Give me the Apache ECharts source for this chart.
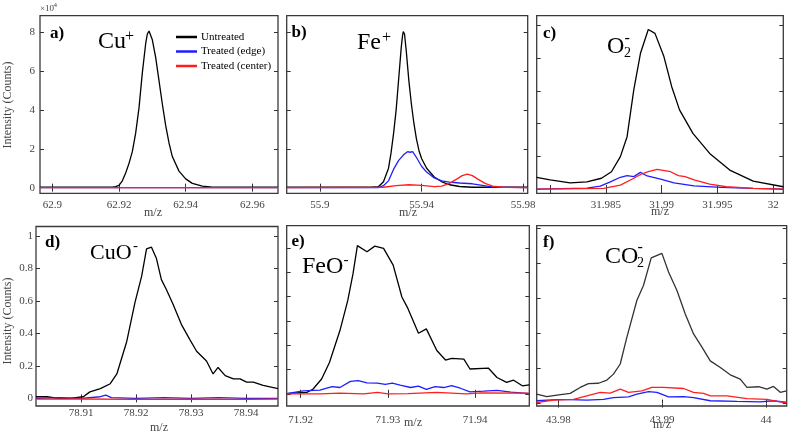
<!DOCTYPE html>
<html><head><meta charset="utf-8">
<script src="https://cdn.jsdelivr.net/npm/echarts@6/dist/echarts.min.js"></script>
<style>html,body{margin:0;padding:0;background:#fff}#c{width:789px;height:434px}</style>
</head><body><div id="c"></div><script>
// ---------- data (m/z, intensity) ----------
const seriesNames = ['Untreated', 'Treated (edge)', 'Treated (center)'];

// a) Cu+  (intensity x10^4)
const aUntreated = [[62.8963,0.02],[62.905,0.02],[62.915,0.02],[62.918,0.03],[62.919,0.05],[62.920,0.12],[62.921,0.35],[62.922,0.75],[62.923,1.25],[62.924,1.85],[62.925,2.8],[62.926,4.1],[62.927,5.9],[62.928,7.4],[62.9285,7.9],[62.929,8.05],[62.9295,7.95],[62.930,7.6],[62.931,6.7],[62.932,5.5],[62.933,4.3],[62.934,3.2],[62.935,2.3],[62.936,1.6],[62.938,0.85],[62.940,0.45],[62.942,0.22],[62.945,0.08],[62.948,0.03],[62.955,0.02],[62.9677,0.02]];
const aEdge = [[62.8963,0],[62.92,0],[62.94,0],[62.9677,0]];
const aCenter = [[62.8963,0],[62.92,0],[62.94,0],[62.9677,0]];

// b) Fe+
const bUntreated = [[55.8869,0.02],[55.920,0.02],[55.923,0.05],[55.925,0.3],[55.927,1.0],[55.928,1.8],[55.929,2.8],[55.930,4.0],[55.931,5.6],[55.932,7.2],[55.9325,7.8],[55.9328,8.02],[55.9333,7.9],[55.934,7.0],[55.935,5.5],[55.936,4.3],[55.937,3.3],[55.938,2.5],[55.939,1.9],[55.940,1.5],[55.942,1.0],[55.945,0.55],[55.948,0.3],[55.951,0.15],[55.955,0.06],[55.960,0.02],[55.9818,0.02]];
const bEdge = [[55.8869,0],[55.923,0],[55.925,0.1],[55.927,0.35],[55.929,0.95],[55.931,1.4],[55.933,1.7],[55.9345,1.85],[55.9355,1.82],[55.9365,1.85],[55.938,1.55],[55.940,1.1],[55.942,0.8],[55.945,0.5],[55.948,0.35],[55.951,0.28],[55.955,0.24],[55.960,0.2],[55.964,0.12],[55.968,0.03],[55.9818,0]];
const bCenter = [[55.8869,0],[55.925,0.02],[55.930,0.1],[55.935,0.15],[55.940,0.12],[55.945,0.05],[55.948,0.08],[55.951,0.22],[55.954,0.45],[55.956,0.62],[55.958,0.7],[55.960,0.62],[55.962,0.45],[55.965,0.22],[55.968,0.08],[55.972,0.02],[55.9818,0]];

// c) O2-
const cUntreated = [[31.9788,0.36],[31.980,0.28],[31.9818,0.19],[31.9833,0.22],[31.9846,0.33],[31.9855,0.53],[31.9863,0.99],[31.9869,1.6],[31.9875,3.03],[31.9881,4.15],[31.9888,4.88],[31.9894,4.76],[31.9902,4.05],[31.9909,3.13],[31.9916,2.42],[31.9928,1.70],[31.9943,1.09],[31.9961,0.58],[31.9982,0.24],[32.0009,0.07]];
const cEdge = [[31.9788,0],[31.9833,0.03],[31.9845,0.09],[31.9854,0.22],[31.9863,0.36],[31.9869,0.41],[31.9875,0.38],[31.9881,0.51],[31.9887,0.40],[31.9899,0.30],[31.9911,0.19],[31.9929,0.10],[31.9953,0.05],[31.9982,0.02],[32.0009,0]];
const cCenter = [[31.9788,0],[31.9848,0.02],[31.9863,0.12],[31.9875,0.33],[31.9882,0.46],[31.9888,0.53],[31.9896,0.60],[31.9908,0.53],[31.9915,0.41],[31.9921,0.38],[31.9929,0.28],[31.9943,0.15],[31.9958,0.07],[31.9982,0.02],[32.0009,0]];

// d) CuO-
const dUntreated = [[78.9018,0.01],[78.9038,0.01],[78.9059,0.0],[78.908,0.0],[78.9104,0.01],[78.9116,0.04],[78.9135,0.06],[78.9153,0.09],[78.9165,0.15],[78.9183,0.35],[78.9198,0.59],[78.921,0.75],[78.9219,0.92],[78.9228,0.93],[78.9237,0.86],[78.9246,0.73],[78.9255,0.67],[78.9267,0.58],[78.9283,0.45],[78.9298,0.36],[78.931,0.29],[78.9328,0.23],[78.934,0.15],[78.9349,0.19],[78.9362,0.14],[78.9377,0.12],[78.9389,0.12],[78.9401,0.10],[78.9413,0.10],[78.9431,0.08],[78.9458,0.06]];
const dEdge = [[78.9018,0],[78.906,0.005],[78.910,0],[78.9135,0.01],[78.9145,0.02],[78.9155,0.005],[78.920,0],[78.925,0.005],[78.930,0],[78.935,0.005],[78.940,0],[78.9458,0]];
const dCenter = [[78.9018,-0.005],[78.910,-0.004],[78.920,-0.006],[78.930,-0.005],[78.940,-0.006],[78.9458,-0.005]];

// e) FeO-
const eUntreated = [[71.9184,0.01],[71.9195,0.04],[71.9207,0.06],[71.9214,0.19],[71.9224,0.61],[71.9233,1.29],[71.9245,2.60],[71.9254,3.84],[71.926,4.94],[71.9265,6.09],[71.9276,5.84],[71.9285,6.07],[71.9295,5.98],[71.9306,5.29],[71.9316,3.98],[71.9323,3.50],[71.9335,2.49],[71.9344,2.67],[71.9356,1.78],[71.9366,1.39],[71.9373,1.46],[71.9387,1.43],[71.9394,1.02],[71.9415,1.06],[71.9425,0.67],[71.9436,0.47],[71.9444,0.56],[71.9454,0.33],[71.9462,0.37]];
const eEdge = [[71.9184,0.01],[71.9203,0.12],[71.9222,0.15],[71.9236,0.30],[71.9245,0.26],[71.9257,0.51],[71.9266,0.54],[71.9276,0.45],[71.9288,0.44],[71.9297,0.39],[71.9305,0.44],[71.9314,0.36],[71.9326,0.26],[71.9335,0.32],[71.9344,0.18],[71.9354,0.30],[71.9364,0.26],[71.9373,0.34],[71.9383,0.23],[71.9394,0.08],[71.9410,0.11],[71.9425,0.14],[71.9441,0.07],[71.9452,0.04],[71.9462,0.01]];
const eCenter = [[71.9184,0],[71.9222,0],[71.9245,0.03],[71.9272,0],[71.9288,0.06],[71.9300,0],[71.9323,0.01],[71.9356,0.06],[71.9390,0],[71.9407,0.04],[71.9462,0.03]];

// f) CO2-
const fUntreated = [[43.9779,0.27],[43.97888,0.20],[43.97985,0.24],[43.98113,0.29],[43.98209,0.46],[43.98289,0.57],[43.98386,0.58],[43.98467,0.67],[43.9853,0.84],[43.98595,1.13],[43.98659,1.89],[43.98756,2.95],[43.9882,3.38],[43.98894,4.16],[43.98997,4.29],[43.99061,3.76],[43.99142,3.23],[43.99222,2.56],[43.99302,1.99],[43.99383,1.61],[43.99463,1.22],[43.9956,1.03],[43.99656,0.82],[43.99752,0.70],[43.99817,0.46],[43.99929,0.48],[44.0001,0.41],[44.00073,0.49],[44.00138,0.32],[44.0020,0.36]];
const fEdge = [[43.9779,0.08],[43.97985,0.11],[43.98113,0.11],[43.98273,0.10],[43.98434,0.12],[43.9853,0.17],[43.98675,0.19],[43.98756,0.27],[43.98868,0.34],[43.98949,0.32],[43.99061,0.19],[43.99206,0.20],[43.99302,0.17],[43.99463,0.08],[43.9972,0.06],[43.99945,0.05],[44.00073,0.08],[44.0020,0.03]];
const fCenter = [[43.9779,0.03],[43.97952,0.10],[43.98145,0.12],[43.98273,0.22],[43.98402,0.32],[43.98498,0.30],[43.98595,0.41],[43.98675,0.32],[43.98804,0.36],[43.98900,0.46],[43.99013,0.46],[43.99206,0.43],[43.99302,0.32],[43.99399,0.29],[43.99463,0.22],[43.99624,0.22],[43.99817,0.14],[44.0001,0.12],[44.00106,0.06],[44.0020,0.03]];

// axis ranges, tick positions and tick labels
const xRanges = [[62.8963,62.9677],[55.8869,55.9818],[31.9788,32.0009],[78.9018,78.9458],[71.9184,71.9462],[43.9779,44.0020]];
const xTicks = [[62.9,62.92,62.94,62.96],[55.9,55.94,55.98],[31.98,31.985,31.99,31.995,32],[78.91,78.92,78.93,78.94],[71.92,71.93,71.94],[43.98,43.99,44]];
const xTickLabels = [[62.9,62.92,62.94,62.96],[55.9,55.94,55.98],[31.985,31.99,31.995,32],[78.91,78.92,78.93,78.94],[71.92,71.93,71.94],[43.98,43.99,44]];
const yRanges = [[-0.29,8.84],[-0.29,8.84],[-0.13,5.3],[-0.047,1.057],[-0.5,6.91],[-0.07,5.08]];
const yTicks = [[0,2,4,6,8],[0,2,4,6,8],[0,1,2,3,4,5],[0,0.2,0.4,0.6,0.8,1],[0,1,2,3,4,5,6],[0,1,2,3,4,5]];
const yTickLabels = [[0,2,4,6,8],[],[],[0,0.2,0.4,0.6,0.8,1],[],[]];
const panelData = [
  [aUntreated,aEdge,aCenter],[bUntreated,bEdge,bCenter],[cUntreated,cEdge,cCenter],
  [dUntreated,dEdge,dCenter],[eUntreated,eEdge,eCenter],[fUntreated,fEdge,fCenter]
];

// ---------- layout / style ----------
const grids = [
  {left:40, top:15.7, width:238, height:177.6},
  {left:286.7, top:15.7, width:241, height:177.6},
  {left:536.7, top:15.7, width:246.6, height:177.6},
  {left:36, top:226.5, width:242, height:179.5},
  {left:286.7, top:225.7, width:242.6, height:180.3},
  {left:536.7, top:225.7, width:250, height:180.3}
];
const xLabelMargin = [6, 6, 6, 2, 9, 9];
const yLabelMargin = [5, 5, 5, 3, 5, 5];
const colors = [['#000','#1e1eff','#ff1e1e'],['#000','#1e1eff','#ff1e1e'],['#000','#1e1eff','#ff1e1e'],['#000','#1e1eff','#ff1e1e'],['#000','#1e1eff','#ff1e1e'],['#333','#1e1eff','#ff1e1e']];
const SERIF = "'Liberation Serif', 'DejaVu Serif', serif";
const tickColor = '#333';

function fmt(v) { return String(+(+v).toFixed(5)); }

const xAxes = [], yAxes = [], series = [];
grids.forEach((g, i) => {
  const xTickStyle = {show:true, inside:true, length:4, customValues:xTicks[i], lineStyle:{color:tickColor, width:1}};
  const yTickStyle = {show:true, inside:true, length:4, customValues:yTicks[i], lineStyle:{color:tickColor, width:1}};
  xAxes.push({
    type:'value', gridIndex:i, position:'bottom', min:xRanges[i][0], max:xRanges[i][1],
    axisLine:{show:false}, splitLine:{show:false}, axisTick:xTickStyle,
    axisLabel:{show:true, customValues:xTickLabels[i], margin:xLabelMargin[i], color:'#444', fontFamily:SERIF, fontSize:11,
      formatter: fmt}
  });
  xAxes.push({
    type:'value', gridIndex:i, position:'top', min:xRanges[i][0], max:xRanges[i][1],
    axisLine:{show:false}, splitLine:{show:false}, axisTick:xTickStyle, axisLabel:{show:false}
  });
  yAxes.push({
    type:'value', gridIndex:i, position:'left', min:yRanges[i][0], max:yRanges[i][1],
    axisLine:{show:false}, splitLine:{show:false}, axisTick:yTickStyle,
    axisLabel:{show:yTickLabels[i].length > 0, customValues:yTickLabels[i], margin:yLabelMargin[i], color:'#444', fontFamily:SERIF, fontSize:11,
      formatter: fmt}
  });
  yAxes.push({
    type:'value', gridIndex:i, position:'right', min:yRanges[i][0], max:yRanges[i][1],
    axisLine:{show:false}, splitLine:{show:false}, axisTick:yTickStyle, axisLabel:{show:false}
  });
  panelData[i].forEach((d, k) => {
    series.push({
      type:'line', name:seriesNames[k], xAxisIndex:2*i, yAxisIndex:2*i, data:d,
      symbol:'none', showSymbol:false, clip:true, smooth:false,
      lineStyle:{color:colors[i][k], width:1.3}, itemStyle:{color:colors[i][k]},
      emphasis:{disabled:true}
    });
  });
});

function T(x, y, text, size, extra) {
  const o = {type:'text', x:x, y:y, silent:true, z:100,
    style:{text:text, font: (extra && extra.bold ? 'bold ' : '') + size + 'px ' + SERIF,
      fill:(extra && extra.fill) || '#000', align:(extra && extra.align) || 'left', verticalAlign:'middle'}};
  if (extra && extra.rotation) o.rotation = extra.rotation;
  return o;
}
const graphics = [
  // multiplier
  T(40, 8.5, '×10', 9, {fill:'#444'}), T(53.5, 5, '4', 7, {fill:'#444'}),
  // panel letters
  T(50, 33.5, 'a)', 17, {bold:true}), T(291.5, 33, 'b)', 17, {bold:true}), T(543, 33.5, 'c)', 17, {bold:true}),
  T(45, 243, 'd)', 17, {bold:true}), T(291.5, 242, 'e)', 17, {bold:true}), T(543, 243, 'f)', 17, {bold:true}),
  // species
  T(98, 42, 'Cu', 24), T(125, 37, '+', 16),
  T(357, 43, 'Fe', 24), T(382, 38, '+', 16),
  T(607, 47, 'O', 24), T(624, 53, '2', 14), T(624.5, 38.5, '-', 16),
  T(90, 253, 'CuO', 22), T(133, 246.5, '-', 15),
  T(302, 267, 'FeO', 24), T(343.5, 260, '-', 15),
  T(605, 257, 'CO', 24), T(637, 263, '2', 14), T(637.5, 248, '-', 16),
  // axis titles
  T(8, 105, 'Intensity (Counts)', 12, {fill:'#444', align:'center', rotation:Math.PI/2}),
  T(8, 321, 'Intensity (Counts)', 12, {fill:'#444', align:'center', rotation:Math.PI/2}),
  T(153, 213, 'm/z', 12, {fill:'#444', align:'center'}),
  T(408, 213, 'm/z', 12, {fill:'#444', align:'center'}),
  T(660, 212, 'm/z', 12, {fill:'#444', align:'center'}),
  T(159, 428, 'm/z', 12, {fill:'#444', align:'center'}),
  T(413, 423, 'm/z', 12, {fill:'#444', align:'center'}),
  T(662, 425, 'm/z', 12, {fill:'#444', align:'center'})
];

const chart = echarts.init(document.getElementById('c'), null, {renderer:'canvas'});
chart.setOption({
  animation:false,
  backgroundColor:'#fff',
  grid: grids.map(g => Object.assign({show:true, borderColor:'#3a3a3a', borderWidth:1.3, backgroundColor:'transparent', containLabel:false}, g)),
  xAxis: xAxes, yAxis: yAxes, series: series,
  legend: {
    data: seriesNames, orient:'vertical', left:171, top:25.5, itemWidth:21, itemHeight:2.5, itemGap:1.5,
    icon:'rect', itemStyle:{borderWidth:0}, selectedMode:false,
    textStyle:{fontFamily:SERIF, fontSize:11, color:'#000', lineHeight:13, padding:[0,0,0,-1]}
  },
  graphic: graphics
});
</script></body></html>
